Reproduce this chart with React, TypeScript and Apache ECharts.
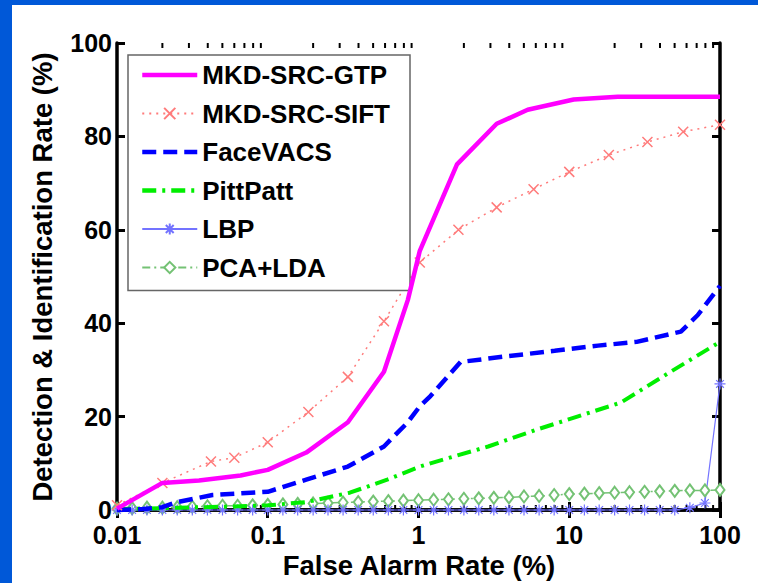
import React, { useEffect, useRef } from "react";
import * as echarts from "echarts";

// ---------- data ----------
const seriesNames = ["MKD-SRC-GTP", "MKD-SRC-SIFT", "FaceVACS", "PittPatt", "LBP", "PCA+LDA"];
const plainLineSeries = ["MKD-SRC-GTP", "FaceVACS", "PittPatt"];

const gtpX = [0.01, 0.02, 0.035, 0.066, 0.1, 0.18, 0.34, 0.59, 0.85, 1.02, 1.8, 3.3, 5.3, 10.7, 21, 100];
const gtpY = [0.3, 5.8, 6.3, 7.4, 8.6, 12.3, 18.8, 29.6, 45, 55.5, 74, 82.7, 85.7, 87.9, 88.5, 88.5];

const siftX = [0.01, 0.02, 0.042, 0.06, 0.1, 0.186, 0.34, 0.59, 1.02, 1.84, 3.3, 5.8, 10, 18.3, 33, 57, 100];
const siftY = [1.0, 5.8, 10.4, 11.2, 14.5, 21, 28.5, 40.4, 53, 60, 64.8, 68.7, 72.4, 76, 78.8, 81, 82.5];

const faceX = [0.01, 0.015, 0.02, 0.025, 0.043, 0.1, 0.18, 0.34, 0.59, 0.85, 1.02, 1.2, 1.9, 3.6, 8, 15.5, 28, 55, 71, 100];
const faceY = [0, 0.2, 0.6, 1.7, 3.2, 3.9, 6.5, 9.3, 13.6, 18.8, 22.2, 24.4, 31.7, 32.8, 34.1, 35.2, 36, 38.2, 41.7, 48];

const pittX = [0.01, 0.02, 0.05, 0.1, 0.18, 0.35, 0.62, 1.02, 1.2, 2.9, 6.2, 11.3, 22, 47, 100];
const pittY = [0.2, 0.4, 0.7, 1.0, 1.7, 3.7, 6.5, 9.3, 10, 13.6, 17.3, 20, 23, 29.6, 36];

const gridX = [
  0.01, 0.0126, 0.0158, 0.02, 0.0251, 0.0316, 0.0398, 0.0501, 0.0631, 0.0794,
  0.1, 0.126, 0.158, 0.2, 0.251, 0.316, 0.398, 0.501, 0.631, 0.794,
  1, 1.26, 1.58, 2, 2.51, 3.16, 3.98, 5.01, 6.31, 7.94,
  10, 12.6, 15.8, 20, 25.1, 31.6, 39.8, 50.1, 63.1, 79.4, 100,
];
const lbpY = [
  0, 0, 0, 0, 0, 0, 0, 0, 0, 0,
  0, 0, 0, 0, 0, 0, 0, 0, 0, 0,
  0, 0, 0, 0, 0, 0, 0, 0, 0, 0,
  0, 0, 0, 0, 0, 0, 0, 0, 0.5, 1.5, 27,
];
const pcaY = [
  0.3, 0.4, 0.5, 0.5, 0.6, 0.7, 0.8, 0.9, 0.9, 1.0,
  1.1, 1.2, 1.3, 1.4, 1.5, 1.6, 1.7, 1.8, 1.9, 2.0,
  2.1, 2.2, 2.3, 2.4, 2.5, 2.6, 2.7, 2.9, 3.0, 3.2,
  3.4, 3.5, 3.6, 3.7, 3.8, 3.9, 4.0, 4.1, 4.2, 4.2, 4.3,
];

const xTickLabels = ["0.01", "0.1", "1", "10", "100"];
const minorTickX = [
  0.02, 0.03, 0.04, 0.05, 0.06, 0.07, 0.08, 0.09,
  0.2, 0.3, 0.4, 0.5, 0.6, 0.7, 0.8, 0.9,
  2, 3, 4, 5, 6, 7, 8, 9,
  20, 30, 40, 50, 60, 70, 80, 90,
];

const xTitle = "False Alarm Rate (%)";
const yTitle = "Detection & Identification Rate (%)";

const FONT = '"Liberation Sans", Arial, Helvetica, sans-serif';
const zip = (xs: number[], ys: number[]) => xs.map((x, i) => [x, ys[i]]);

const X_MARK = "path://M0,0L10,10M10,0L0,10";
const STAR_MARK = "path://M5,0L5,10M0,5L10,5M1.5,1.5L8.5,8.5M8.5,1.5L1.5,8.5";

export default function App() {
  const ref = useRef<HTMLDivElement>(null);
  useEffect(() => {
    if (!ref.current) return;
    const chart = echarts.init(ref.current, undefined, { renderer: "svg" });
    const axisLine = { show: true, lineStyle: { color: "#000", width: 3.5 } };
    const tick = { show: true, inside: true, length: 8, lineStyle: { color: "#000", width: 3 } };
    const labelStyle = { color: "#000", fontSize: 25, fontWeight: "bold" as const, fontFamily: FONT };
    const option: any = {
      animation: false,
      backgroundColor: "#fff",
      grid: { left: 105, top: 38, right: 38, bottom: 73, containLabel: false },
      xAxis: [
        {
          type: "log",
          logBase: 10,
          min: 0.01,
          max: 100,
          position: "bottom",
          axisLine,
          axisTick: tick,
          splitLine: { show: false },
          axisLabel: {
            ...labelStyle,
            lineHeight: 22,
            margin: 14,
            formatter: (v: number) => {
              const i = Math.round(Math.log10(v)) + 2;
              return xTickLabels[i] ?? "";
            },
          },
        },
        {
          type: "log",
          logBase: 10,
          min: 0.01,
          max: 100,
          position: "top",
          axisLine,
          axisTick: tick,
          axisLabel: { show: false },
          splitLine: { show: false },
        },
      ],
      yAxis: [
        {
          type: "value",
          min: 0,
          max: 100,
          interval: 20,
          position: "left",
          axisLine,
          axisTick: tick,
          splitLine: { show: false },
          axisLabel: { ...labelStyle, lineHeight: 19, margin: 5, padding: [0, 0, 5, 0] },
        },
        {
          type: "value",
          min: 0,
          max: 100,
          interval: 20,
          position: "right",
          axisLine,
          axisTick: tick,
          splitLine: { show: false },
          axisLabel: { show: false },
        },
      ],
      legend: {
        data: seriesNames.map((name) =>
          plainLineSeries.includes(name)
            ? { name, itemStyle: { opacity: 0 }, lineStyle: { width: 4.5 } }
            : { name }
        ),
        orient: "vertical",
        left: 116,
        top: 50,
        padding: [7, 20, 10, 12],
        itemWidth: 55,
        itemHeight: 14,
        itemGap: 12.5,
        backgroundColor: "#fff",
        borderColor: "#666",
        borderWidth: 1.5,
        borderRadius: 0,
        textStyle: { color: "#000", fontSize: 26, fontWeight: "bold", fontFamily: FONT, padding: [0, 0, 0, 0] },
      },
      graphic: [
        {
          type: "text",
          x: 30,
          y: 272,
          rotation: Math.PI / 2,
          style: {
            text: yTitle,
            fill: "#000",
            font: `bold 27.5px ${FONT}`,
            textAlign: "center",
            textVerticalAlign: "middle",
          },
        },
        {
          type: "text",
          x: 407,
          y: 560,
          style: {
            text: xTitle,
            fill: "#000",
            font: `bold 27.5px ${FONT}`,
            textAlign: "center",
            textVerticalAlign: "middle",
          },
        },
      ],
      series: [
        {
          name: "PCA+LDA",
          type: "line",
          data: zip(gridX, pcaY),
          clip: false,
          symbol: "emptyDiamond",
          symbolSize: [9, 12],
          lineStyle: { color: "#74c274", width: 1.5, type: [8, 4, 2, 4] },
          itemStyle: { color: "#74c274", borderColor: "#74c274", borderWidth: 1.5 },
          z: 2,
        },
        {
          name: "LBP",
          type: "line",
          data: zip(gridX, lbpY),
          clip: false,
          symbol: STAR_MARK,
          symbolSize: 11,
          lineStyle: { color: "#7373ff", width: 1.2 },
          itemStyle: { color: "#7373ff", borderColor: "#7373ff", borderWidth: 1.2 },
          z: 2,
        },
        {
          name: "PittPatt",
          type: "line",
          data: zip(pittX, pittY),
          clip: false,
          showSymbol: false,
          symbol: "circle",
          lineStyle: { color: "#00ee00", width: 4, type: [14, 6, 3, 6] },
          itemStyle: { color: "#00ee00" },
          z: 3,
        },
        {
          name: "FaceVACS",
          type: "line",
          data: zip(faceX, faceY),
          clip: false,
          showSymbol: false,
          symbol: "circle",
          lineStyle: { color: "#0000ff", width: 4.5, type: [14, 7] },
          itemStyle: { color: "#0000ff" },
          z: 3,
        },
        {
          name: "MKD-SRC-SIFT",
          type: "line",
          data: zip(siftX, siftY),
          clip: false,
          symbol: X_MARK,
          symbolSize: 10,
          lineStyle: { color: "#ff7b7b", width: 1.5, type: [2, 5] },
          itemStyle: { color: "#ff7b7b", borderColor: "#ff7b7b", borderWidth: 1.5 },
          z: 3,
        },
        {
          name: "MKD-SRC-GTP",
          type: "line",
          data: zip(gtpX, gtpY),
          clip: false,
          showSymbol: false,
          symbol: "circle",
          lineStyle: { color: "#ff00ff", width: 4.5 },
          itemStyle: { color: "#ff00ff" },
          z: 4,
        },
        {
          name: "minorTicks",
          type: "custom",
          silent: true,
          clip: false,
          data: minorTickX.map((x) => [x, 100]),
          renderItem: (_params: any, api: any) => {
            const x = api.value(0);
            const top = api.coord([x, 100]);
            const bottom = api.coord([x, 0]);
            return {
              type: "group",
              children: [
                { type: "line", shape: { x1: top[0], y1: top[1], x2: top[0], y2: top[1] + 5 }, style: { stroke: "#000", lineWidth: 2 } },
                { type: "line", shape: { x1: bottom[0], y1: bottom[1], x2: bottom[0], y2: bottom[1] - 5 }, style: { stroke: "#000", lineWidth: 2 } },
              ],
            };
          },
          z: 1,
        },
      ],
    };
    chart.setOption(option);
    return () => chart.dispose();
  }, []);

  return (
    <div style={{ position: "fixed", left: 0, top: 0, width: 758, height: 583, background: "#0058d8" }}>
      <div ref={ref} style={{ position: "absolute", left: 12, top: 5, width: 746, height: 578, background: "#fff" }} />
    </div>
  );
}
